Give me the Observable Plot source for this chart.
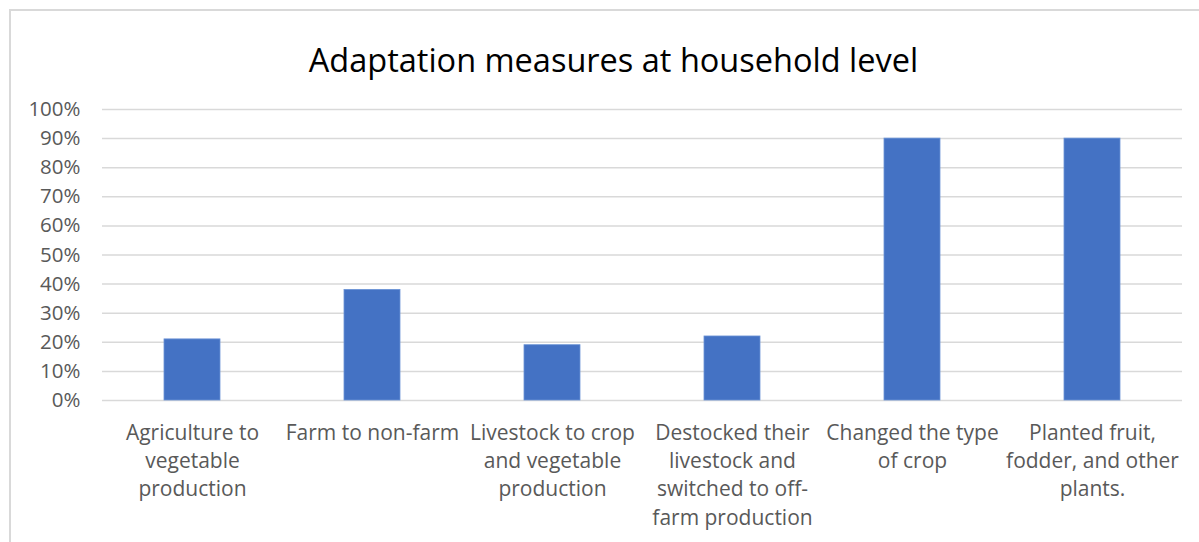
<!DOCTYPE html>
<html>
<head>
<meta charset="utf-8">
<script src="https://cdn.jsdelivr.net/npm/d3@7"></script>
<script src="https://cdn.jsdelivr.net/npm/@observablehq/plot@0.6"></script>
<style>
  html, body { margin: 0; padding: 0; background: #fff; }
  #wrap { position: relative; width: 1199px; height: 542px; overflow: hidden; font-family: "Open Sans", sans-serif; }
  #frame { position: absolute; left: 9px; top: 9px; width: 1300px; height: 700px; border-top: 2px solid #d9d9d9; border-left: 2px solid #d9d9d9; }
  #title { position: absolute; left: 0; width: 1227px; top: 37px; text-align: center; font-size: 32.5px; color: #000; white-space: nowrap; }
  #chart { position: absolute; left: 0; top: 0; }
</style>
</head>
<body>
<div id="wrap">
  <div id="frame"></div>
  <div id="chart"></div>
  <div id="title">Adaptation measures at household level</div>
</div>
<script>
const categories = [
  "Agriculture to vegetable production",
  "Farm to non-farm",
  "Livestock to crop and vegetable production",
  "Destocked their livestock and switched to off-farm production",
  "Changed the type of crop",
  "Planted fruit, fodder, and other plants."
];
const categoryLabels = [
  "Agriculture to\nvegetable\nproduction",
  "Farm to non-farm",
  "Livestock to crop\nand vegetable\nproduction",
  "Destocked their\nlivestock and\nswitched to off-\nfarm production",
  "Changed the type\nof crop",
  "Planted fruit,\nfodder, and other\nplants."
];
const values = [0.21, 0.38, 0.19, 0.22, 0.90, 0.90];
const yTicks = [0, 0.1, 0.2, 0.3, 0.4, 0.5, 0.6, 0.7, 0.8, 0.9, 1.0];

const data = categories.map((c, i) => ({category: c, value: values[i]}));
const labelOf = new Map(categories.map((c, i) => [c, categoryLabels[i]]));

const chart = Plot.plot({
  width: 1199,
  height: 542,
  marginLeft: 102,
  marginRight: 17,
  marginTop: 109,
  marginBottom: 142,
  style: { fontFamily: "Open Sans, sans-serif", background: "transparent", overflow: "visible" },
  x: { domain: categories, paddingInner: 0.69, paddingOuter: 0.345, label: null },
  y: { domain: [0, 1], label: null },
  marks: [
    Plot.ruleY(yTicks, { stroke: "#d9d9d9", strokeWidth: 1.5, strokeOpacity: 1 }),
    Plot.barY(data, { x: "category", y: "value", fill: "#4472C4", stroke: "#6b93d6", strokeWidth: 0.8 }),
    Plot.axisY(yTicks, { tickSize: 0, tickPadding: 22, tickFormat: d => Math.round(d * 100) + "%", fontSize: 20.5, color: "#595959", label: null }),
    Plot.axisX({ tickSize: 0, tickPadding: 19, tickFormat: d => labelOf.get(d), fontSize: 21, lineHeight: 1.35, color: "#595959", label: null })
  ]
});
document.getElementById("chart").appendChild(chart);
</script>
</body>
</html>
